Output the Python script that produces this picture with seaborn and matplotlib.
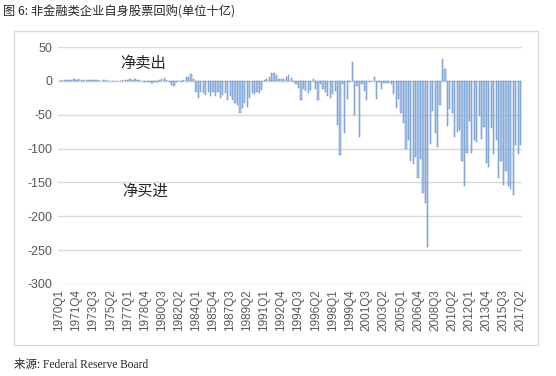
import matplotlib
matplotlib.use("Agg")
import matplotlib.pyplot as plt
from matplotlib.patches import Rectangle
import seaborn as sns
import pandas as pd

# 季度标签 1970Q1 - 2017Q2
quarters = [f"{y}Q{q}" for y in range(1970, 2018) for q in range(1, 5)][:190]

# 回购净额(十亿美元)
buyback_1970_1983 = [0.5, 1, 1.5, 1, 1.5, 1.5, 2, 1.5,
                     2, 1.5, 1.5, 1, 1.5, 1.5, 1, 1,
                     1, 0.5, 1.5, 1, 0.5, 0.5, 0.5, 0.5,
                     0.5, 0.5, 1, 1.5, 1.5, 2, 1.5, 2,
                     1.5, 1, 0.5, -1, -2, -1, -3, -2,
                     -1, 1, 2, 4, 1, -2, -6, -7,
                     -1, 0, -2, 1, 5, 6, 10, 3]
buyback_1984_1990 = [-16, -25, -17, -18, -21, -17, -22, -17,
                     -23, -16, -25, -21, -18, -28, -23, -28,
                     -33, -35, -48, -40, -33, -38, -25, -18,
                     -20, -16, -18, -13]
buyback_1991_2003 = [1, 3, 5, 11, 11, 8, 3, 2, 3, 6, 8, 4, -2,
                     -5, -10, -29, -12, -15, -18, -14, 2, -12, -28,
                     -5, -12, -17, -22, -25, -20, -15, -65, -110, -5,
                     -77, -27, -1, 28, -50, -8, -83, -5, -15, -28,
                     -2, 0, 6, -27, -2, -12, -3, -3, -3, -5]
buyback_2004_2017 = [-20, -40, -27, -48, -62, -100, -88, -118, -123,
                     -112, -143, -115, -165, -180, -246, -93, -45, -77,
                     -98, -35, 33, 17, -67, -42, -47, -83, -75, -72,
                     -118, -155, -106, -60, -106, -87, -91, -52, -86,
                     -68, -121, -127, -70, -108, -87, -143, -118, -154,
                     -133, -155, -160, -168, -95, -108, -95]

values = buyback_1970_1983 + buyback_1984_1990 + buyback_1991_2003 + buyback_2004_2017
df = pd.DataFrame({"quarter": quarters, "value": values})

sns.set_theme(style="white")
plt.rcParams["font.family"] = ["Liberation Sans", "Noto Sans CJK SC", "DejaVu Sans"]

fig = plt.figure(figsize=(5.56, 3.76), dpi=100)
ax = fig.add_axes([0.104, 0.245, 0.835, 0.630])

sns.barplot(data=df, x="quarter", y="value", color="#A9C6EA",
            edgecolor="#5B8AC6", linewidth=0.35, width=0.5,
            saturation=1, ax=ax)

ax.set_ylim(-300, 50)
ax.set_xlim(-0.6, 189.6)
ax.set_yticks(range(-300, 51, 50))
ax.set_yticklabels([str(v) for v in range(-300, 51, 50)], fontsize=9, color="#595959")
ticks = list(range(0, 190, 7))
ax.set_xticks(ticks)
ax.set_xticklabels([quarters[i] for i in ticks], rotation=90, fontsize=8.5, color="#595959")
ax.tick_params(axis="both", length=0, pad=4)
ax.yaxis.grid(True, color="#D9D9D9", linewidth=1)
ax.set_axisbelow(True)
for s in ax.spines.values():
    s.set_visible(False)
ax.axhline(0, color="#D9D9D9", linewidth=1, zorder=0)
ax.set_xlabel("")
ax.set_ylabel("")

ax.text(34.5, 26, "净卖出", fontsize=11, ha="center", va="center",
        family=["Noto Sans CJK SC"])
ax.text(35, -163, "净买进", fontsize=11, ha="center", va="center",
        family=["Noto Sans CJK SC"])

fig.patches.append(Rectangle((14 / 556, 1 - 345 / 376), 524 / 556, 314 / 376,
                             transform=fig.transFigure, fill=False,
                             edgecolor="#D9D9D9", linewidth=1))

fig.text(0.005, 1 - 12 / 376, "图 6: 非金融类企业自身股票回购(单位十亿)",
         fontsize=8.8, va="center", ha="left",
         family=["Noto Sans CJK SC", "DejaVu Sans"])
fig.text(0.025, 1 - 365 / 376, "来源: Federal Reserve Board",
         fontsize=8.3, va="center", ha="left",
         family=["Liberation Serif", "Noto Sans CJK SC"])

fig.savefig("out.png", dpi=100)
